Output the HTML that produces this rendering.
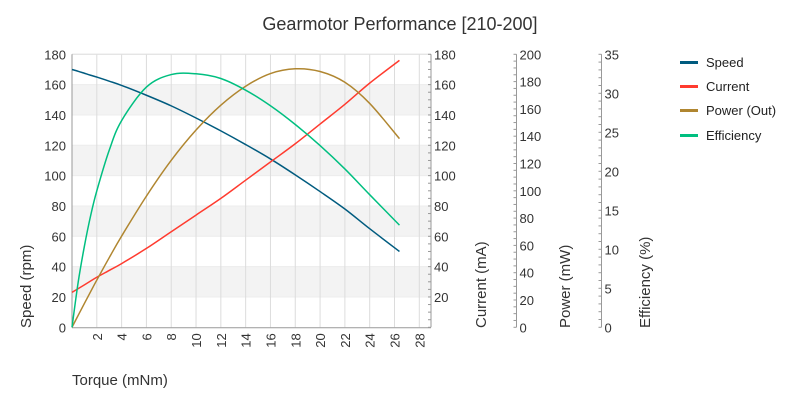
<!DOCTYPE html>
<html><head><meta charset="utf-8"><style>
body{margin:0;background:#fff;width:800px;height:400px;overflow:hidden}
svg{font-family:"Liberation Sans",sans-serif;fill:#333}
</style></head><body>
<svg id="chart" width="800" height="400" xmlns="http://www.w3.org/2000/svg">
<text x="400" y="30" text-anchor="middle" font-size="18" fill="#333">Gearmotor Performance [210-200]</text>
<g id="grid"></g><g id="axes"></g><g id="series"></g>
<g font-size="13" fill="#222">
<g><rect x="680" y="61" width="18" height="3" fill="#005b7f"/><text x="706" y="67">Speed</text></g>
<g><rect x="680" y="85" width="18" height="3" fill="#ff3b2f"/><text x="706" y="91">Current</text></g>
<g><rect x="680" y="109" width="18" height="3" fill="#b08630"/><text x="706" y="115">Power (Out)</text></g>
<g><rect x="680" y="134" width="18" height="3" fill="#00bf80"/><text x="706" y="140">Efficiency</text></g>
</g>
<text x="72" y="385" font-size="15">Torque (mNm)</text>
<text transform="translate(31,328) rotate(-90)" font-size="15">Speed (rpm)</text>
<text transform="translate(486,328) rotate(-90)" font-size="15">Current (mA)</text>
<text transform="translate(570,328) rotate(-90)" font-size="15">Power (mW)</text>
<text transform="translate(650,328) rotate(-90)" font-size="15">Efficiency (%)</text>
</svg>
<script>
const torque=[0,0.5,1,1.5,2,3,4,6,8,10,12,14,16,18,20,22,24,26.4];
const speed=[170,168.8,167.5,166.2,165,162.3,159.5,153,146,138,129.5,120.5,111,100.5,89.5,78,65,50];
const current=[23,25.5,28,30.5,33,37.5,42,52,63,74,85,97,109,121,134,147,161,176];
const power=[0,8.8,17.5,26.1,34.6,51,66.8,96.1,122.3,144.5,162.7,176.6,185.9,189.4,187.4,179.5,164,138.2];
const efficiency=[0,5.8,10.4,14.3,17.5,22.7,26.5,30.8,32.4,32.5,31.9,30.4,28.4,26,23.3,20.3,17,13.1];
const xTicks=[2,4,6,8,10,12,14,16,18,20,22,24,26,28];
const speedTicks=[0,20,40,60,80,100,120,140,160,180];
const currentTicks=[20,40,60,80,100,120,140,160,180];
const powerTicks=[0,20,40,60,80,100,120,140,160,180,200];
const effTicks=[0,5,10,15,20,25,30,35];

const NS="http://www.w3.org/2000/svg";
const X0=72,X1=431,Y0=327.3,Y1=54.3;
const xs=t=>X0+t*(419.3-X0)/28;
const ys=(v,max)=>Y0-v*(Y0-Y1)/max;
function mk(tag,attrs,parent){const e=document.createElementNS(NS,tag);for(const k in attrs)e.setAttribute(k,attrs[k]);parent.appendChild(e);return e;}
const grid=document.getElementById('grid'),axes=document.getElementById('axes'),ser=document.getElementById('series');
[[20,40],[60,80],[100,120],[140,160]].forEach(b=>{
 const r=mk('rect',{x:X0,y:ys(b[1],180),width:X1-X0,height:ys(b[0],180)-ys(b[1],180),fill:'#f3f3f3'},grid);
 
 
});
speedTicks.forEach(v=>{if(v>0){const l=mk('line',{x1:X0,x2:X1,y1:ys(v,180),y2:ys(v,180),stroke:'#ececec'},grid);
 
 }});
xTicks.forEach(t=>{
 const l=mk('line',{x1:xs(t),x2:xs(t),y1:Y1,y2:Y0,stroke:'#dcdcdc'},grid);
 
 
 const tx=mk('text',{transform:`translate(${xs(t)+5},${Y0+6}) rotate(-90)`,'text-anchor':'end','font-size':'13'},axes);
 tx.textContent=t;
 
 
});
mk('line',{x1:X0,x2:X1,y1:Y1,y2:Y1,stroke:'#e0e0e0'},grid);
const xa=mk('line',{x1:X0,x2:X1,y1:Y0+0.5,y2:Y0+0.5,stroke:'#999'},axes);


const la=mk('line',{x1:X0,x2:X0,y1:Y1,y2:Y0,stroke:'#999'},axes);


speedTicks.forEach(v=>{const t=mk('text',{x:X0-6,y:ys(v,180)+5,'text-anchor':'end','font-size':'13'},axes);t.textContent=v;
 
 });
function rightAxis(x,ticks,max,minorStep,name){
 const a=mk('line',{x1:x,x2:x,y1:Y1,y2:Y0,stroke:'#999'},axes);
 
 
 for(let v=0;v<=max+1e-9;v+=minorStep){mk('line',{x1:x-3,x2:x,y1:ys(v,max),y2:ys(v,max),stroke:'#999'},axes);}
 ticks.forEach(v=>{const t=mk('text',{x:x+3,y:ys(v,max)+5,'font-size':'13'},axes);t.textContent=v;
  
  });
}
rightAxis(X1,currentTicks,180,5,'current-axis');
rightAxis(516.5,powerTicks,200,5,'power-axis');
rightAxis(601.5,effTicks,35,1,'efficiency-axis');
function line(vals,max,color,name){
 const P=torque.map((t,i)=>[xs(t),ys(vals[i],max)]);
 let d='M'+P[0][0].toFixed(2)+','+P[0][1].toFixed(2);
 for(let i=0;i<P.length-1;i++){
  const p0=P[Math.max(0,i-1)],p1=P[i],p2=P[i+1],p3=P[Math.min(P.length-1,i+2)];
  const c1=[p1[0]+(p2[0]-p0[0])/6,p1[1]+(p2[1]-p0[1])/6];
  const c2=[p2[0]-(p3[0]-p1[0])/6,p2[1]-(p3[1]-p1[1])/6];
  d+='C'+c1.map(v=>v.toFixed(2)).join(',')+' '+c2.map(v=>v.toFixed(2)).join(',')+' '+p2[0].toFixed(2)+','+p2[1].toFixed(2);
 }
 const p=mk('path',{d:d,fill:'none',stroke:color,'stroke-width':'1.5','stroke-linejoin':'round'},ser);
 
 
}
line(speed,180,'#005b7f','speed-line');
line(current,180,'#ff3b2f','current-line');
line(power,200,'#b08630','power-line');
line(efficiency,35,'#00bf80','efficiency-line');
</script>
</body></html>
